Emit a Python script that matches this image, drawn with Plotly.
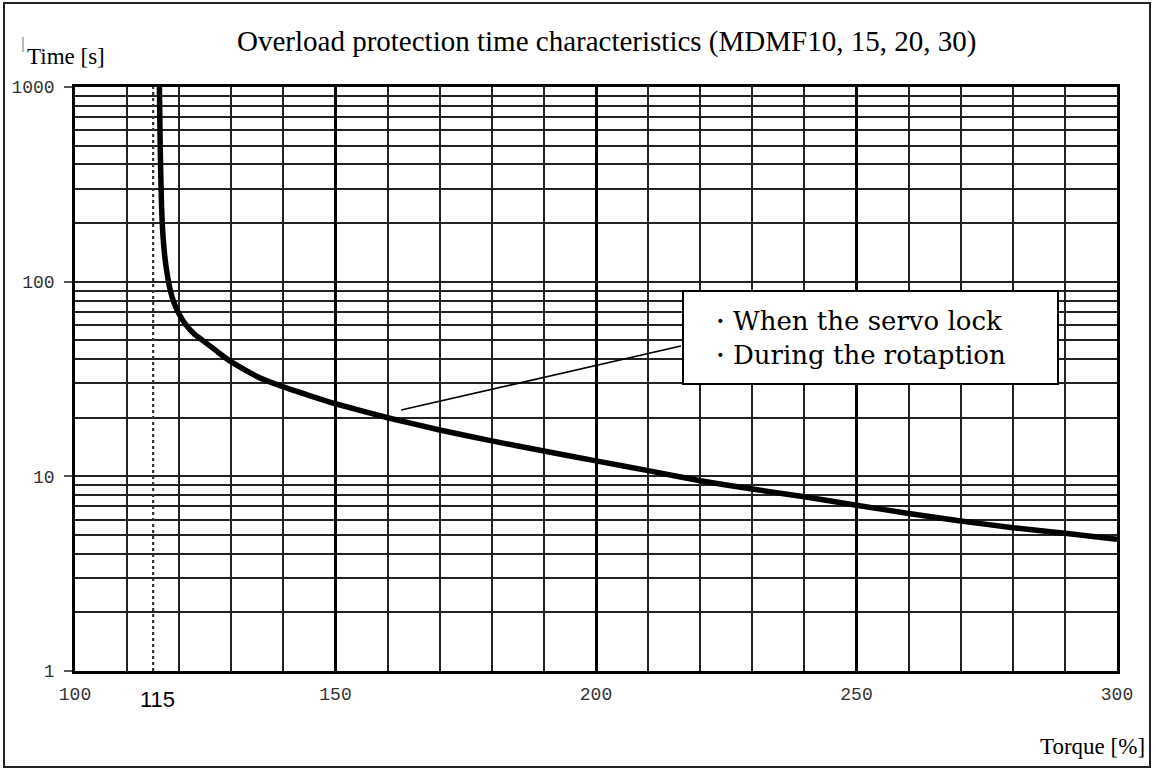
import plotly.graph_objects as go

# ---- data ----
torque = [116.2, 116.35, 116.6, 116.9, 117.3, 117.8, 118.3, 119.0, 120.0, 121.3, 123.0,
          125.0, 127.5, 130, 135, 140, 145, 150, 160, 170, 180, 190, 200, 210, 220, 230, 240,
          250, 260, 270, 280, 290, 300]
time_s = [1000, 500, 250, 170, 130, 105, 90, 78, 68, 60, 53.5,
          48.8, 43.3, 38.7, 32.5, 28.8, 26, 23.6, 20, 17.3, 15.2, 13.5, 12.0, 10.7, 9.5, 8.6, 7.85,
          7.1, 6.45, 5.9, 5.45, 5.1, 4.75]

marker_x = [115, 115]
marker_y = [1, 1000]

leader_x = [162.6, 216.3]
leader_y = [21.9, 46.7]

x_tickvals = [100, 150, 200, 250, 300]
y_tickvals = [1, 10, 100, 1000]
y_ticktext = ["1", "10", "100", "1000"]

title_text = "Overload protection time characteristics (MDMF10, 15, 20, 30)"
legend_text = "・When the servo lock<br>・During the rotaption"

# ---- layout geometry ----
W, H = 1156, 769
ML, MR, MT, MB = 75, 39, 87, 98
PW, PH = W - ML - MR, H - MT - MB


def px(xp):
    return (xp - ML) / PW


def py(yp):
    return (H - MB - yp) / PH


GRID = "#222222"

fig = go.Figure()

fig.add_trace(go.Scatter(x=marker_x, y=marker_y, mode="lines",
                         line=dict(color="#333333", width=2.2, dash="dot"),
                         hoverinfo="skip", showlegend=False))
fig.add_trace(go.Scatter(x=leader_x, y=leader_y, mode="lines",
                         line=dict(color="black", width=1.6),
                         hoverinfo="skip", showlegend=False))
fig.add_trace(go.Scatter(x=torque, y=time_s, mode="lines",
                         line=dict(color="black", width=5.5, shape="spline", smoothing=0.5),
                         showlegend=False))

minor_x = [v for v in range(110, 300, 10) if v not in x_tickvals]
minor_y = [m * 10 ** d for d in range(0, 3) for m in range(2, 10)]

fig.update_xaxes(
    range=[100, 300], tickvals=x_tickvals, ticks="",
    showgrid=True, gridcolor="black", gridwidth=2.6,
    showline=True, mirror=True, linecolor="black", linewidth=2.6,
    zeroline=False, ticklabelstandoff=5,
    tickfont=dict(family="Liberation Mono", size=18, color="#333333"),
    minor=dict(tickvals=minor_x, showgrid=True, gridcolor=GRID, gridwidth=1.6, ticks=""),
)
fig.update_yaxes(
    type="log", range=[0, 3], tickvals=y_tickvals, ticktext=y_ticktext,
    ticks="outside", ticklen=8, tickwidth=1.5, tickcolor="#555555",
    showgrid=True, gridcolor=GRID, gridwidth=1.6,
    showline=True, mirror=True, linecolor="black", linewidth=2.6,
    zeroline=False, ticklabelstandoff=6,
    tickfont=dict(family="Liberation Mono", size=18, color="#333333"),
    minor=dict(tickvals=minor_y, showgrid=True, gridcolor=GRID, gridwidth=1.6, ticks=""),
)

shapes = [
    # outer frame
    dict(type="rect", xref="paper", yref="paper", x0=px(4), x1=px(1150), y0=py(767), y1=py(3),
         line=dict(color="#222222", width=2), fillcolor="rgba(0,0,0,0)", layer="above"),
    # stray mark near axis title
    dict(type="line", xref="paper", yref="paper", x0=px(23), x1=px(23), y0=py(52), y1=py(37),
         line=dict(color="#777777", width=1), layer="above"),
    # legend box
    dict(type="rect", xref="paper", yref="paper", x0=px(683), x1=px(1058), y0=py(384), y1=py(291),
         line=dict(color="black", width=2), fillcolor="white", layer="above"),
]

annotations = [
    dict(text=title_text, xref="paper", yref="paper", x=px(606), y=py(42),
         xanchor="center", yanchor="middle", showarrow=False,
         font=dict(family="Liberation Serif", size=29, color="black")),
    dict(text="Time [s]", xref="paper", yref="paper", x=px(25), y=py(57),
         xanchor="left", yanchor="middle", showarrow=False,
         font=dict(family="Liberation Serif", size=23, color="black")),
    dict(text="Torque [%]", xref="paper", yref="paper", x=px(1147), y=py(746),
         xanchor="right", yanchor="middle", showarrow=False,
         font=dict(family="Liberation Serif", size=23, color="black")),
    dict(text="115", xref="x", yref="paper", x=115, xshift=4, y=py(699),
         xanchor="center", yanchor="middle", showarrow=False,
         font=dict(family="Liberation Sans", size=22, color="black")),
    dict(text=legend_text, xref="paper", yref="paper", x=px(705), y=py(338),
         xanchor="left", yanchor="middle", align="left", showarrow=False,
         font=dict(family="DejaVu Serif", size=26, color="black")),
]

fig.update_layout(
    width=W, height=H, autosize=False,
    margin=dict(l=ML, r=MR, t=MT, b=MB, pad=0),
    paper_bgcolor="white", plot_bgcolor="white",
    shapes=shapes, annotations=annotations, showlegend=False,
)

fig.write_html("out.html", config={"displayModeBar": False},
               post_script="document.body.style.margin='0px';document.body.style.padding='0px';")
